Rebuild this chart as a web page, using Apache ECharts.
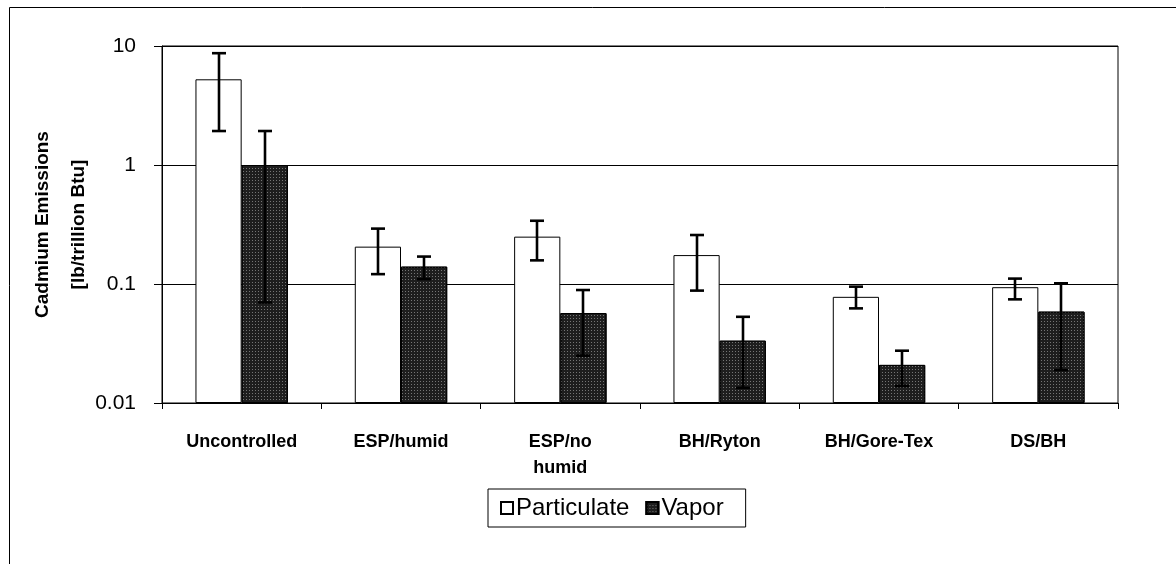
<!DOCTYPE html>
<html>
<head>
<meta charset="utf-8">
<script src="https://cdn.jsdelivr.net/npm/echarts@6/dist/echarts.min.js"></script>
<style>html,body{margin:0;padding:0;background:#fff}#c{width:1176px;height:564px}</style>
</head>
<body>
<div id="c"></div>
<script>
const categories = ['Uncontrolled', 'ESP/humid', 'ESP/no\nhumid', 'BH/Ryton', 'BH/Gore-Tex', 'DS/BH'];
const particulate = [5.25, 0.206, 0.25, 0.175, 0.078, 0.094];
const particulateLow = [1.93, 0.121, 0.158, 0.088, 0.0624, 0.0743];
const particulateHigh = [8.7, 0.292, 0.34, 0.258, 0.095, 0.111];
const vapor = [1.0, 0.14, 0.057, 0.0334, 0.0209, 0.0586];
const vaporLow = [0.07, 0.11, 0.025, 0.0134, 0.0139, 0.0189];
const vaporHigh = [1.93, 0.17, 0.089, 0.053, 0.0275, 0.1014];
const yTicks = [0.01, 0.1, 1, 10];

const AXIS_MIN = yTicks[0];
const BAR_FRAC = 0.29;

// bars on a log axis start from 1 by default; stack each bar on an invisible base at the axis minimum
const baseData = categories.map(() => AXIS_MIN);
const stackAbove = arr => arr.map(v => v - AXIS_MIN);

function errSeries(low, high, side) {
  return {
    type: 'custom',
    z: 10,
    silent: true,
    data: low.map((l, i) => [i, l, high[i]]),
    renderItem: function (params, api) {
      const cat = api.value(0);
      const band = api.size([1, 1])[0];
      const off = side * band * BAR_FRAC / 2;
      const pLo = api.coord([cat, api.value(1)]);
      const pHi = api.coord([cat, api.value(2)]);
      const x = Math.round(pLo[0] + off);
      const hw = 7;
      const st = { stroke: '#000', lineWidth: 2.6 };
      return {
        type: 'group',
        children: [
          { type: 'line', shape: { x1: x, y1: pLo[1], x2: x, y2: pHi[1] }, style: st },
          { type: 'line', shape: { x1: x - hw, y1: pLo[1], x2: x + hw, y2: pLo[1] }, style: st },
          { type: 'line', shape: { x1: x - hw, y1: pHi[1], x2: x + hw, y2: pHi[1] }, style: st }
        ]
      };
    }
  };
}

const chart = echarts.init(document.getElementById('c'), null, { renderer: 'canvas' });
const FONT = 'Liberation Sans, Arial, sans-serif';
const vaporStyle = {
  color: '#1e1e1e', borderColor: '#000', borderWidth: 1,
  decal: { symbol: 'rect', symbolSize: 1, dashArrayX: [1, 2], dashArrayY: [1, 2], color: 'rgba(190,190,190,0.55)' }
};
chart.setOption({
  animation: false,
  backgroundColor: '#fff',
  textStyle: { fontFamily: FONT, color: '#000' },
  grid: { left: 162, right: 58, top: 46, bottom: 161, show: true, borderColor: '#000', borderWidth: 1, backgroundColor: 'transparent' },
  legend: {
    left: 488, top: 489,
    data: ['Particulate', 'Vapor'],
    itemWidth: 12, itemHeight: 12, itemGap: 16,
    icon: 'rect',
    borderColor: '#000', borderWidth: 1,
    padding: [7, 22, 7, 12],
    textStyle: { fontSize: 24, fontFamily: FONT, color: '#000', padding: [0, 0, 0, -2] }
  },
  xAxis: {
    type: 'category',
    data: categories,
    axisLine: { lineStyle: { color: '#000', width: 1 } },
    axisTick: { show: true, length: 6, lineStyle: { color: '#000' } },
    axisLabel: { fontSize: 18, fontWeight: 'bold', color: '#000', margin: 26, lineHeight: 26, interval: 0, fontFamily: FONT }
  },
  yAxis: {
    type: 'log',
    logBase: 10,
    min: yTicks[0],
    max: yTicks[yTicks.length - 1],
    axisLine: { show: true, lineStyle: { color: '#000', width: 1 } },
    axisTick: { show: true, length: 8, lineStyle: { color: '#000' } },
    minorTick: { show: false },
    splitLine: { show: true, lineStyle: { color: '#000', width: 1 } },
    axisLabel: { fontSize: 21, color: '#000', margin: 26, fontFamily: FONT, formatter: v => String(v) },
    name: 'Cadmium Emissions\n[lb/trillion Btu]',
    nameLocation: 'middle',
    nameRotate: 90,
    nameGap: 65,
    nameMoveOverlap: false,
    nameTextStyle: { fontSize: 19, fontWeight: 'bold', color: '#000', lineHeight: 36, fontFamily: FONT }
  },
  series: [
    {
      name: 'baseP', type: 'bar', stack: 'p', data: baseData, silent: true,
      barWidth: '29%', barGap: '0%',
      itemStyle: { color: 'rgba(0,0,0,0)', borderWidth: 0 }
    },
    {
      name: 'Particulate', type: 'bar', stack: 'p', data: stackAbove(particulate),
      barWidth: '29%', barGap: '0%',
      itemStyle: { color: '#fff', borderColor: '#000', borderWidth: 1 }
    },
    {
      name: 'baseV', type: 'bar', stack: 'v', data: baseData, silent: true,
      barWidth: '29%', barGap: '0%',
      itemStyle: { color: 'rgba(0,0,0,0)', borderWidth: 0 }
    },
    {
      name: 'Vapor', type: 'bar', stack: 'v', data: stackAbove(vapor),
      barWidth: '29%', barGap: '0%',
      itemStyle: vaporStyle
    },
    errSeries(particulateLow, particulateHigh, -1),
    errSeries(vaporLow, vaporHigh, 1)
  ],
  graphic: [
    { type: 'line', shape: { x1: 9.5, y1: 7.5, x2: 1176, y2: 7.5 }, style: { stroke: '#000', lineWidth: 1 } },
    { type: 'line', shape: { x1: 9.5, y1: 7.5, x2: 9.5, y2: 564 }, style: { stroke: '#000', lineWidth: 1 } }
  ]
});
</script>
</body>
</html>
